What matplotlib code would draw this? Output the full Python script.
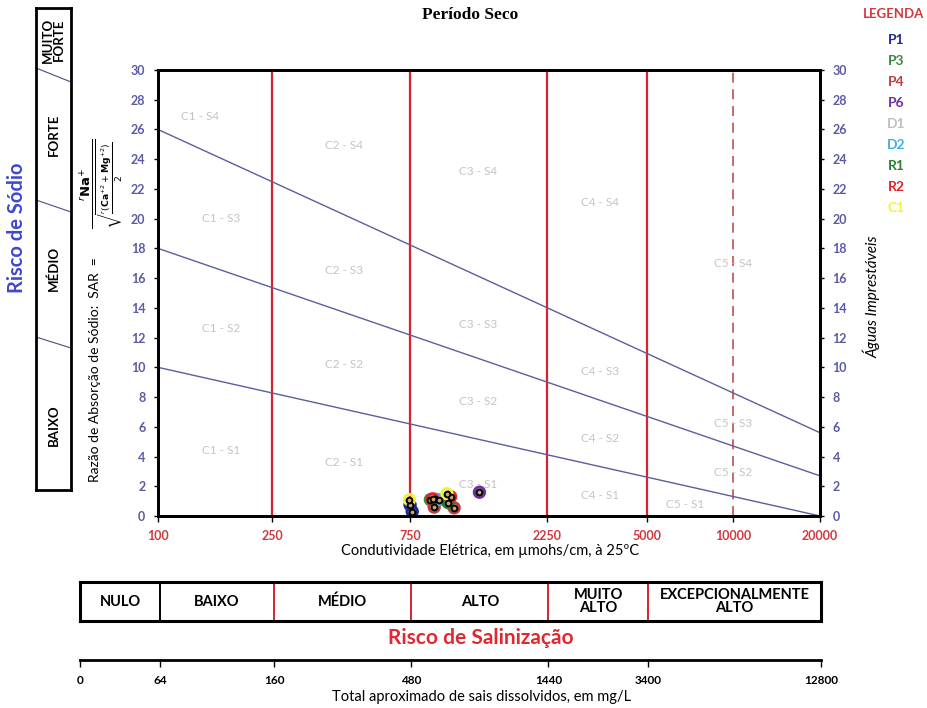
import matplotlib.pyplot as plt
import numpy as np

plt.rcParams['font.family'] = ['Lato', 'DejaVu Sans']

W, H = 928, 708

# eixos do diagrama USSL
ec_ticks = [100, 250, 750, 2250, 5000, 10000, 20000]
sar_ticks = list(range(0, 31, 2))
class_limits = [250, 750, 2250, 5000]
ec_ends = [100, 20000]
s1_s2 = [10, 0]
s2_s3 = [18, 2.7]
s3_s4 = [26, 5.6]

zone_names = ['C1 - S4', 'C2 - S4', 'C3 - S4', 'C4 - S4', 'C5 - S4',
              'C1 - S3', 'C2 - S3', 'C3 - S3', 'C4 - S3', 'C5 - S3',
              'C1 - S2', 'C2 - S2', 'C3 - S2', 'C4 - S2', 'C5 - S2',
              'C1 - S1', 'C2 - S1', 'C3 - S1', 'C4 - S1', 'C5 - S1']
zone_ec = [140, 444, 1300, 3440, 10000,
           166, 444, 1300, 3440, 10000,
           166, 444, 1300, 3440, 10000,
           166, 444, 1300, 3440, 6820]
zone_sar = [26.9, 24.9, 23.2, 21.1, 17.0,
            20.0, 16.5, 12.9, 9.75, 6.2,
            12.6, 10.2, 7.7, 5.2, 2.9,
            4.4, 3.6, 2.15, 1.4, 0.75]

# pontos de amostragem (CE em umhos/cm, SAR)
pontos = ['P1', 'P3', 'P4', 'P6', 'D1', 'D2', 'R1', 'R2', 'C1']
cores = ['#1f2a8a', '#3a8a3a', '#b8423f', '#7030a0', '#bfbfbf',
         '#3fb0e0', '#2e7d32', '#e3202b', '#f2f23c']
p1_ec, p1_sar = [752, 765], [0.75, 0.3]
p3_ec, p3_sar = [885], [1.1]
p4_ec, p4_sar = [912, 1070], [0.6, 0.55]
p6_ec, p6_sar = [1310], [1.6]
d1_ec, d1_sar = [920], [1.15]
d2_ec, d2_sar = [950], [1.1]
r1_ec, r1_sar = [1020], [0.9]
r2_ec, r2_sar = [900, 1040], [1.15, 1.3]
c1_ec, c1_sar = [748, 1010], [1.1, 1.5]
ec_pts = [p1_ec, p3_ec, p4_ec, p6_ec, d1_ec, d2_ec, r1_ec, r2_ec, c1_ec]
sar_pts = [p1_sar, p3_sar, p4_sar, p6_sar, d1_sar, d2_sar, r1_sar, r2_sar, c1_sar]

# escala de salinidade e STD
risco_sal = ['NULO', 'BAIXO', 'MÉDIO', 'ALTO', 'MUITO\nALTO', 'EXCEPCIONALMENTE\nALTO']
sal_limits = [52.7, 100, 250, 750, 2250, 5000, 20000]
tds_labels = ['0', '64', '160', '480', '1440', '3400', '12800']
risco_sodio = ['BAIXO', 'MÉDIO', 'FORTE', 'MUITO\nFORTE']


def box(x0, y0, x1, y1):
    return [x0 / W, 1 - y1 / H, (x1 - x0) / W, (y1 - y0) / H]


def pt(x, y):
    return x / W, 1 - y / H


fig = plt.figure(figsize=(W / 100, H / 100), dpi=100)

# ---- diagrama principal ----
ax = fig.add_axes(box(158, 70, 820, 516))
ax.set_xscale('log')
ax.set_xlim(ec_ends)
ax.set_ylim(0, 30)

for lim in class_limits:
    ax.axvline(lim, color='#d8232e', lw=1.6, zorder=1)
ax.axvline(10000, color='#c0504d', lw=1.2, ls=(0, (6, 4)), zorder=1)

for lin in (s1_s2, s2_s3, s3_s4):
    ax.plot(ec_ends, lin, color='#5b5e9e', lw=1, zorder=2)

for nome, e, s in zip(zone_names, zone_ec, zone_sar):
    ax.text(e, s, nome, color='#c4c4c4', fontsize=8.5, ha='center', va='center', zorder=2)

for cor, e, s in zip(cores, ec_pts, sar_pts):
    ax.scatter(e, s, s=55, facecolor='none', edgecolor=cor, lw=2.2, zorder=4)
    ax.scatter(e, s, s=17, facecolor='#c9a46c', edgecolor='black', lw=1.4, zorder=5)

ax.set_xticks(ec_ticks)
ax.set_xticklabels([str(v) for v in ec_ticks])
ax.xaxis.set_minor_locator(plt.NullLocator())
ax.tick_params(axis='x', colors='black', labelcolor='#d0393e', labelsize=9,
               length=4, width=1, pad=6)
for t in ax.get_xticklabels():
    t.set_fontweight('bold')
ax.set_yticks(sar_ticks)
ax.tick_params(axis='y', labelcolor='#5a5aa6', labelsize=9, length=3, width=1, pad=6)
for t in ax.get_yticklabels():
    t.set_fontweight('bold')
for sp in ax.spines.values():
    sp.set_linewidth(2)

ax2 = ax.twinx()
ax2.set_ylim(0, 30)
ax2.set_yticks(sar_ticks)
ax2.tick_params(axis='y', labelcolor='#5a5aa6', labelsize=9, length=3, width=1, pad=6)
for t in ax2.get_yticklabels():
    t.set_fontweight('bold')
for sp in ax2.spines.values():
    sp.set_linewidth(2)

fig.text(*pt(490, 551), 'Condutividade Elétrica, em µmohs/cm, à 25ºC', fontsize=10.5,
         ha='center', va='center')

fig.text(*pt(470, 15), 'Período Seco', family='Liberation Serif', fontweight='bold',
         fontsize=12.5, ha='center', va='center')
fig.text(*pt(872, 297), 'Águas Imprestáveis', style='italic', fontsize=11,
         rotation=90, ha='center', va='center')

fig.text(*pt(95, 370), 'Razão de Absorção de Sódio:  SAR  =', fontsize=10,
         rotation=90, ha='center', va='center')
fig.text(*pt(102, 184),
         r'$\frac{^{r}\mathbf{Na}^{+}}{\sqrt{\frac{^{r}(\mathbf{Ca}^{+2}+\mathbf{Mg}^{+2})}{2}}}$',
         fontsize=13.5, rotation=90, ha='center', va='center')

# legenda
fig.text(*pt(924, 14), 'LEGENDA', color='#d0393e', fontsize=9.5, fontweight='bold',
         ha='right', va='center')
for i, (p, cor) in enumerate(zip(pontos, cores)):
    fig.text(*pt(896, 40 + 21 * i), p, color=cor, fontsize=10, fontweight='bold',
             ha='center', va='center')

# ---- coluna do risco de sódio ----
fig.text(*pt(17, 228), 'Risco de Sódio', color='#3f48cc', fontsize=14.5, fontweight='bold',
         rotation=90, ha='center', va='center')
axs = fig.add_axes(box(36, 8, 71, 490))
axs.set_xlim(0, 1)
axs.set_ylim(490, 8)
axs.set_xticks([])
axs.set_yticks([])
for sp in axs.spines.values():
    sp.set_linewidth(2)
for y0, y1 in [(68, 82), (200, 212), (337, 348)]:
    axs.plot([0, 1], [y0, y1], color='#4a4f80', lw=0.8)
for nome, y in zip(risco_sodio, [425, 268, 135, 40]):
    axs.text(0.5, y, nome, rotation=90, ha='center', va='center', fontsize=9.5,
             fontweight='bold', linespacing=0.9)

# ---- faixa do risco de salinização ----
axb = fig.add_axes(box(80, 582, 821, 621))
axb.set_xscale('log')
axb.set_xlim(sal_limits[0], sal_limits[-1])
axb.set_ylim(0, 1)
axb.set_xticks([])
axb.set_yticks([])
axb.xaxis.set_minor_locator(plt.NullLocator())
for sp in axb.spines.values():
    sp.set_linewidth(2.2)
axb.axvline(sal_limits[1], color='black', lw=1.4)
for lim in sal_limits[2:-1]:
    axb.axvline(lim, color='#d8232e', lw=1.4)
for nome, a, b in zip(risco_sal, sal_limits[:-1], sal_limits[1:]):
    axb.text(np.sqrt(a * b), 0.5, nome, ha='center', va='center', fontsize=10.5,
             fontweight='bold', linespacing=0.9)

fig.text(*pt(481, 638), 'Risco de Salinização', color='#e0282f', fontsize=15,
         fontweight='bold', ha='center', va='center')

# escala de sais dissolvidos
axt = fig.add_axes(box(80, 655, 821, 660))
axt.set_xscale('log')
axt.set_xlim(sal_limits[0], sal_limits[-1])
axt.set_yticks([])
for s in ('top', 'left', 'right'):
    axt.spines[s].set_visible(False)
axt.spines['bottom'].set_linewidth(2)
axt.set_xticks(sal_limits)
axt.set_xticklabels(tds_labels)
axt.xaxis.set_minor_locator(plt.NullLocator())
axt.tick_params(axis='x', length=5, width=1, labelsize=8.5, pad=6)
for t in axt.get_xticklabels():
    t.set_fontweight('bold')
fig.text(*pt(482, 697), 'Total aproximado de sais dissolvidos, em mg/L', fontsize=10.5,
         ha='center', va='center')

fig.savefig('out.png', dpi=100)
